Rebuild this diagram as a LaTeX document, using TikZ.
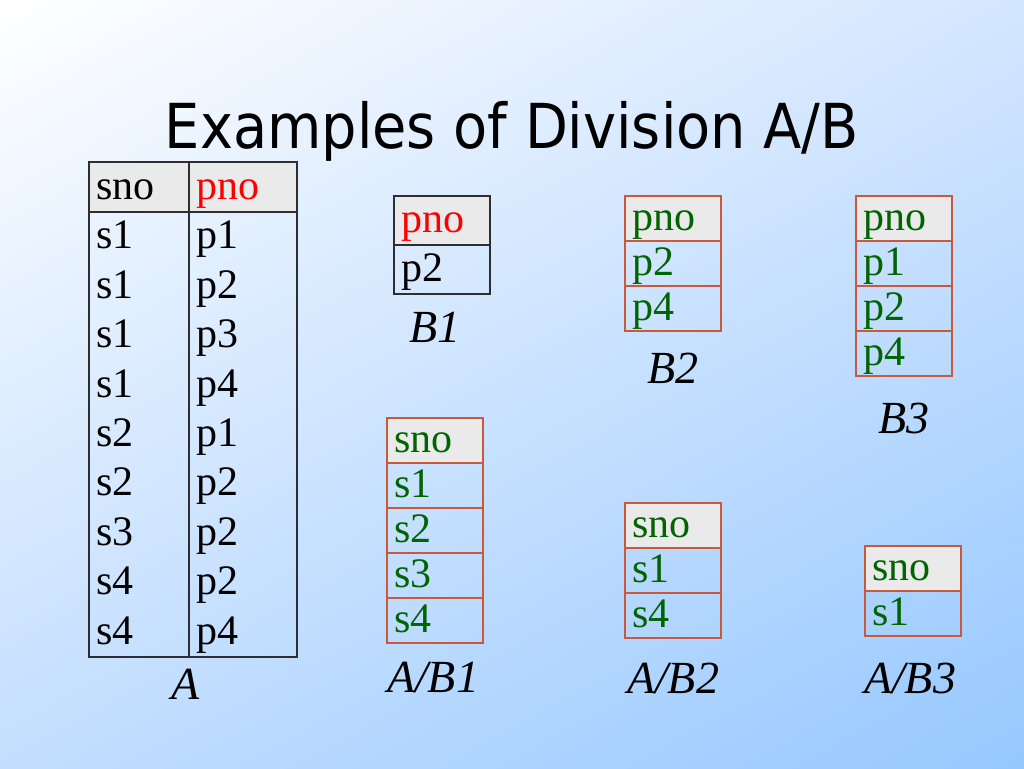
\documentclass[tikz,border=0pt]{standalone}
\usepackage{fontspec}
\setmainfont{Liberation Serif}
\newfontfamily\titlefont{DejaVu Sans Condensed}
\usetikzlibrary{positioning,shadings}

\definecolor{slideblue}{RGB}{150,200,255}
\definecolor{slidetop}{RGB}{212,230,255}
\definecolor{slidebottom}{RGB}{195,222,255}
\definecolor{headgray}{RGB}{234,234,234}
\definecolor{darkrule}{RGB}{45,45,50}
\definecolor{rulebrown}{RGB}{200,90,58}
\definecolor{keygreen}{RGB}{0,100,0}
\definecolor{keyred}{RGB}{255,0,0}

\newcommand{\cellfont}{\fontsize{42pt}{48pt}\selectfont}
\newcommand{\namefont}{\fontsize{46pt}{52pt}\selectfont\itshape}

\begin{document}
\begin{tikzpicture}[
    x=1pt, y=-1pt,
    every node/.style={inner sep=0pt, outer sep=0pt},
    cell/.style={anchor=north west, inner xsep=7pt, text width=82pt, align=left,
        text height=32pt, text depth=9pt, minimum height=45pt, font=\cellfont},
    acell/.style={cell, text height=33pt, minimum height=49.44pt},
    headcell/.style={cell, fill=headgray},
    brownbox/.style={draw=rulebrown, line width=1.6pt},
    darkbox/.style={draw=darkrule, line width=2pt},
    tablename/.style={font=\namefont, text height=30pt, text depth=0pt}
    ]
    % slide background
    \shade[upper left=white, upper right=slidetop, lower left=slidebottom,
        lower right=slideblue] (0,0) rectangle (1024,768);
    \useasboundingbox (0,0) rectangle (1024,768);

    \node[anchor=base, font=\titlefont\fontsize{62pt}{70pt}\selectfont] (title)
        at (512,148) {Examples of Division A/B};

    % table A
    \node[acell, fill=headgray, text width=86pt, minimum height=50pt] (Ahs) at (89,162) {sno};
    \node[acell, fill=headgray, text width=94pt, minimum height=50pt, text=keyred,
        right=0pt of Ahs] (Ahp) {pno};
    \foreach \s/\p [count=\i] in {s1/p1,s1/p2,s1/p3,s1/p4,s2/p1,s2/p2,s3/p2,s4/p2,s4/p4} {
        \node[acell, text width=86pt] (As\i) at (89,{212+(\i-1)*49.44}) {\s};
        \node[acell, text width=94pt, right=0pt of As\i] (Ap\i) {\p};
    }
    \draw[line width=1.5pt, draw=darkrule] (Ahs.south west) -- (Ahp.south east);
    \draw[line width=1.2pt, draw=darkrule] (Ahp.north west) -- (Ap9.south west);
    \draw[darkbox] (Ahs.north west) rectangle (Ap9.south east);
    \node[tablename, below=13pt of As9.south east, xshift=-3pt] (nA) {A};

    % table B1
    \node[headcell, darkbox, minimum height=49pt, text=keyred] (B1h) at (394,196) {pno};
    \node[cell, darkbox, minimum height=49pt, below=0pt of B1h] (B1r1) {p2};
    \node[tablename, below=18pt of B1r1, xshift=-7pt] (nB1) {B1};

    % table B2
    \node[headcell, brownbox, text=keygreen] (B2h) at (625,196) {pno};
    \node[cell, brownbox, text=keygreen, below=0pt of B2h] (B2r1) {p2};
    \node[cell, brownbox, text=keygreen, below=0pt of B2r1] (B2r2) {p4};
    \node[tablename, below=22pt of B2r2] (nB2) {B2};

    % table B3
    \node[headcell, brownbox, text=keygreen] (B3h) at (856,196) {pno};
    \node[cell, brownbox, text=keygreen, below=0pt of B3h] (B3r1) {p1};
    \node[cell, brownbox, text=keygreen, below=0pt of B3r1] (B3r2) {p2};
    \node[cell, brownbox, text=keygreen, below=0pt of B3r2] (B3r3) {p4};
    \node[tablename, below=27pt of B3r3] (nB3) {B3};

    % table A/B1
    \node[headcell, brownbox, text=keygreen] (Q1h) at (387,418) {sno};
    \node[cell, brownbox, text=keygreen, below=0pt of Q1h] (Q1r1) {s1};
    \node[cell, brownbox, text=keygreen, below=0pt of Q1r1] (Q1r2) {s2};
    \node[cell, brownbox, text=keygreen, below=0pt of Q1r2] (Q1r3) {s3};
    \node[cell, brownbox, text=keygreen, below=0pt of Q1r3] (Q1r4) {s4};
    \node[tablename, below=19pt of Q1r4, xshift=-2pt] (nQ1) {A/B1};

    % table A/B2
    \node[headcell, brownbox, text=keygreen] (Q2h) at (625,503) {sno};
    \node[cell, brownbox, text=keygreen, below=0pt of Q2h] (Q2r1) {s1};
    \node[cell, brownbox, text=keygreen, below=0pt of Q2r1] (Q2r2) {s4};
    \node[tablename, below=25pt of Q2r2] (nQ2) {A/B2};

    % table A/B3
    \node[headcell, brownbox, text=keygreen] (Q3h) at (865,546) {sno};
    \node[cell, brownbox, text=keygreen, below=0pt of Q3h] (Q3r1) {s1};
    \node[tablename, below=27pt of Q3r1, xshift=-3pt] (nQ3) {A/B3};
\end{tikzpicture}
\end{document}
